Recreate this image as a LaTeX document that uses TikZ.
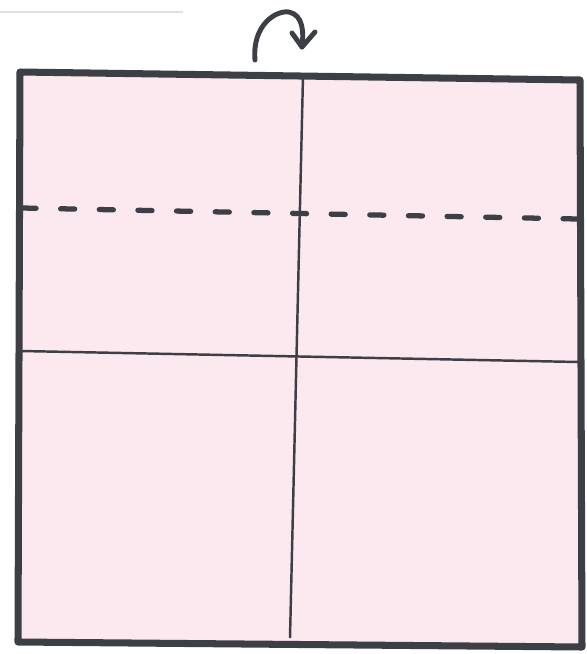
\documentclass[tikz,border=0pt]{standalone}
\usepackage{tikz}
\usetikzlibrary{calc}
\definecolor{paperpink}{HTML}{FCE8EF}
\definecolor{pencil}{HTML}{3C3F45}
\tikzset{
  frame/.style={draw=pencil, line width=4pt, fill=paperpink, line join=round},
  crease/.style={draw=pencil, line width=1.4pt},
  foldline/.style={draw=pencil, line width=3pt, line cap=round, dash pattern=on 8pt off 14pt},
  turnarrow/.style={draw=pencil, line width=2.8pt, line cap=round, line join=round}
}
\begin{document}
\begin{tikzpicture}[x=0.02cm, y=-0.02cm]
            \useasboundingbox (0,0) rectangle (587,654);

            % Scan edge
            \draw[black!12, line width=0.6pt] (0,12) -- (183,12);

            % Corners of the square sheet
            \coordinate (tl) at (20,72);
            \coordinate (tr) at (580,80);
            \coordinate (br) at (582,647);
            \coordinate (bl) at (18,642);

            % Sheet
            \draw[frame] (tl) -- (tr) -- (br) -- (bl) -- cycle;

            % Creases
            \draw[crease] (303,76) -- (290,638);
            \draw[crease] (21,351) -- (579,362);

            % Fold line
            \draw[foldline] (22,208) -- (578,219);

            % Turn over arrow
            \draw[turnarrow] (255,60) .. controls (252,25) and (276,10) .. (289,12)
                .. controls (303,15) and (304,32) .. (302,47);
            \draw[turnarrow] (292,33) -- (302,47) -- (315,32);

        \end{tikzpicture}
\end{document}
